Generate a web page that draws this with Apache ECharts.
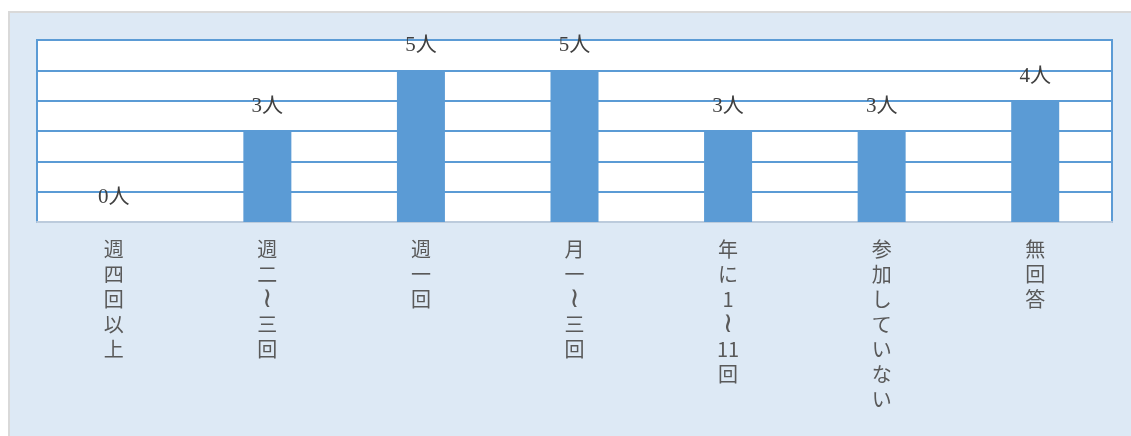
<!DOCTYPE html>
<html><head><meta charset="utf-8">
<script src="https://cdn.jsdelivr.net/npm/echarts@6/dist/echarts.min.js"></script>
<style>
html,body{margin:0;padding:0;background:#fff;width:1131px;height:436px;overflow:hidden;}
#c{position:absolute;left:8px;top:11px;width:1121px;height:425px;border-left:2px solid #d9d9d9;border-top:2px solid #d9d9d9;background:#dde9f5;}
</style></head><body>
<div id="c"></div>
<script>
const categories = ['週四回以上','週二~三回','週一回','月一~三回','年に1~11回','参加していない','無回答'];
const values = [0,3,5,5,3,3,4];
const yTicks = [0,1,2,3,4,5,6];

function vert(s){
  // stack characters vertically; keep "11" together (tate-chu-yoko)
  const parts = s.match(/\d\d|./g);
  return parts.map(p => p === '~' ? '{w|≀}' : '{t|' + p + '}').join('\n');
}

const chart = echarts.init(document.getElementById('c'), null, {renderer:'canvas'});
chart.setOption({
  backgroundColor: '#dde9f5',
  animation: false,
  grid: {left: 27, top: 27, width: 1075, height: 182, show: true, backgroundColor: '#fff', borderColor: '#5b9bd5', borderWidth: 2},
  xAxis: {
    type: 'category', data: categories,
    axisTick: {show: false},
    axisLine: {show: true, lineStyle: {color: '#bccbdc', width: 2}},
    axisLabel: {interval: 0, margin: 15, color: '#595959', fontSize: 20, lineHeight: 25,
      fontFamily: '"Noto Sans CJK JP", sans-serif', verticalAlign: 'top',
      formatter: v => vert(v),
      rich: {
        t: {fontSize: 20, lineHeight: 25, color: '#595959', fontFamily: '"Noto Sans CJK JP", sans-serif'},
        w: {fontSize: 28, lineHeight: 25, color: '#595959', fontFamily: '"DejaVu Sans", sans-serif'}
      }}
  },
  yAxis: {
    type: 'value', min: yTicks[0], max: yTicks[yTicks.length-1], interval: 1,
    axisLabel: {show: false}, axisLine: {show: false}, axisTick: {show: false},
    splitLine: {show: true, lineStyle: {color: '#5b9bd5', width: 2}}
  },
  series: [{
    type: 'bar', data: values, barWidth: 48,
    itemStyle: {color: '#5b9bd5'},
    label: {show: true, position: 'top', distance: 14, color: '#404040', fontSize: 21,
      fontFamily: '"Liberation Serif", "Noto Sans CJK JP", serif',
      formatter: p => p.value + '人'}
  }]
});
</script>
</body></html>
